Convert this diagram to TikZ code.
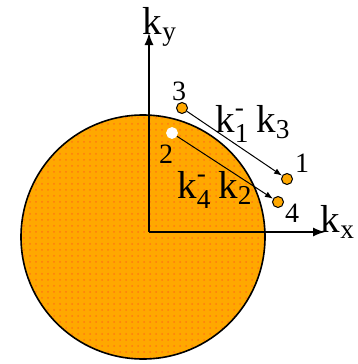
\documentclass[tikz,border=0pt]{standalone}
\usepackage{amsmath}
\usepackage{fontspec}
\setmainfont{Liberation Serif}
\usepackage{tikz}
\usetikzlibrary{arrows.meta,
                patterns
                }
\definecolor{fermi}{HTML}{FFA800}
\definecolor{fermidot}{HTML}{FF7A10}
\tikzset{
    pt/.style={circle, draw=black, fill=fermi, inner sep=0pt, minimum size=5.5pt, line width=0.5pt},
    hole/.style={circle, draw=white, fill=white, inner sep=0pt, minimum size=5.5pt},
    axis/.style={line width=0.7pt, -{Latex[length=6pt,width=4.5pt]}},
    scat/.style={line width=0.5pt, -{Latex[length=4pt,width=3pt]}},
    lbl/.style={font=\fontsize{14}{15}\selectfont, inner sep=0pt},
    klbl/.style={font=\fontsize{19.5}{21}\selectfont, inner sep=0pt}
}

\begin{document}
\begin{tikzpicture}[x=0.5pt, y=-0.5pt]
            \useasboundingbox (0,0) rectangle (358,364);

            %fermi sphere
            \fill[fermi] (143,237) circle [radius=61pt];
            \fill[pattern=dots, pattern color=fermidot] (143,237) circle [radius=61pt];
            \draw[line width=0.8pt] (143,237) circle [radius=61pt];

            %axes
            \coordinate (o) at (149,232);
            \coordinate (xend) at (325,232);
            \coordinate (yend) at (149,33);
            \draw[axis] (o) -- (xend);
            \draw[axis] (o) -- (yend);
            \node[klbl] (ky) at (160,27) {$\text{k}_{\text{y}}$};
            \node[klbl] (kx) at (338,222) {$\text{k}_{\text{x}}$};

            %states
            \node[pt] (p1) at (287,179) {};
            \node[hole] (p2) at (172,133) {};
            \node[pt] (p3) at (182,108) {};
            \node[pt] (p4) at (278,202) {};
            \node[lbl] (l1) at (302,163) {1};
            \node[lbl] (l2) at (166,154) {2};
            \node[lbl] (l3) at (179,91) {3};
            \node[lbl] (l4) at (292,213) {4};

            %scattering
            \draw[scat] (p3) -- (p1);
            \draw[scat] (p2) -- (p4);
            \node[klbl] (q13) at (253,124) {$\text{k}_{\text{1}}^{\text{-}}\,\text{k}_{\text{3}}$};
            \node[klbl] (q42) at (215,190) {$\text{k}_{\text{4}}^{\text{-}}\,\text{k}_{\text{2}}$};
\end{tikzpicture}
\end{document}
